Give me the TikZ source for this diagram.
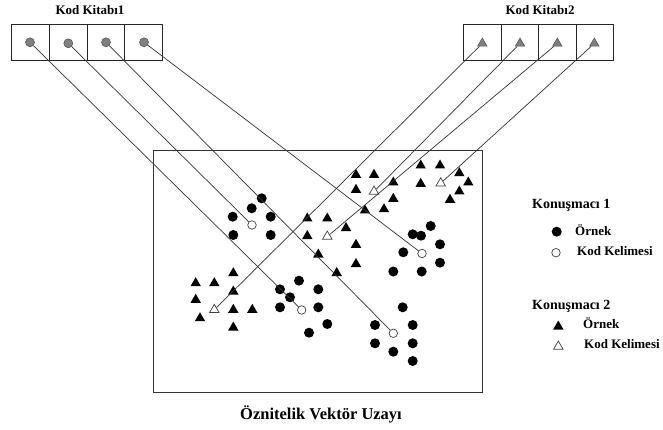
\documentclass[tikz,border=0pt]{standalone}
\usepackage{fontspec}
\setmainfont{Liberation Serif}
\usetikzlibrary{shapes.geometric}
\begin{document}
\begin{tikzpicture}[x=1pt,y=-1pt,
  dot/.style={circle,fill=black,inner sep=0pt,minimum size=10pt},
  cw/.style={circle,draw=black!75,fill=white,line width=0.7pt,inner sep=0pt,minimum size=8.5pt},
  tri/.style={regular polygon,regular polygon sides=3,fill=black,inner sep=0pt,minimum size=12pt,yshift=-1.5pt},
  wtri/.style={regular polygon,regular polygon sides=3,draw=black!75,fill=white,line width=0.7pt,inner sep=0pt,minimum size=11pt,yshift=-1.5pt},
  gdot/.style={circle,fill=black!50,draw=black!70,line width=0.5pt,inner sep=0pt,minimum size=9pt},
  gtri/.style={regular polygon,regular polygon sides=3,fill=black!50,draw=black!70,line width=0.5pt,inner sep=0pt,minimum size=11pt,yshift=-1.5pt},
  cell/.style={draw=black!85,line width=0.8pt,minimum width=37.6pt,minimum height=36pt,inner sep=0pt},
  lbl/.style={font=\bfseries\fontsize{13}{15}\selectfont,inner sep=0pt},
  link/.style={draw=black!80,line width=0.7pt}]
\useasboundingbox (0,0) rectangle (663,430);
% titles
\node[lbl,anchor=base] (kk1) at (90,15) {Kod Kitabı1};
\node[lbl,anchor=base] (kk2) at (540,15) {Kod Kitabı2};
% codebook 1
\node[cell] (b11) at (30.5,42) {};
\node[cell] (b12) at (68.1,42) {};
\node[cell] (b13) at (105.7,42) {};
\node[cell] (b14) at (143.3,42) {};
\node[gdot] (c1) at (30,42.3) {};
\node[gdot] (c2) at (68.3,43.3) {};
\node[gdot] (c3) at (106,42.3) {};
\node[gdot] (c4) at (144,42.3) {};
% codebook 2
\node[cell] (b21) at (482.2,42) {};
\node[cell] (b22) at (519.8,42) {};
\node[cell] (b23) at (557.4,42) {};
\node[cell] (b24) at (595,42) {};
\node[gtri] (t1) at (482.3,42) {};
\node[gtri] (t2) at (520,42) {};
\node[gtri] (t3) at (557.3,42) {};
\node[gtri] (t4) at (594.3,42) {};
% feature space
\node[draw=black!80,line width=0.8pt,minimum width=329.5pt,minimum height=242.5pt,inner sep=0pt] (space) at (318,271.3) {};
\node[lbl,anchor=base,font=\bfseries\fontsize{16.5}{19}\selectfont] (sp) at (321,419.3) {Öznitelik Vektör Uzayı};
% speaker 1 cluster A
\foreach \p [count=\i] in {(261.7,198.3),(251.7,208.3),(232.7,216.7),(270.7,216.7),(233.3,235),(270.7,235)}
  \node[dot] (da\i) at \p {};
\node[cw] (wa) at (252,225) {};
% cluster B
\foreach \p [count=\i] in {(430.7,226),(412.7,234.3),(421,235.7),(440,244.3),(403.3,252.3),(440,262.7),(393.3,271.5),(421.7,271.5)}
  \node[dot] (db\i) at \p {};
\node[cw] (wb) at (422,253.5) {};
% cluster C
\foreach \p [count=\i] in {(299,280.7),(280,289.3),(318.3,289.3),(290,297.3),(280,307.3),(318.3,307.3),(327.3,324),(309,332.7)}
  \node[dot] (dc\i) at \p {};
\node[cw] (wc) at (301.7,310) {};
% cluster D
\foreach \p [count=\i] in {(402.7,307.3),(375,325),(412.7,325),(375,343.3),(412.7,343.3),(393.3,351.7),(412.7,361)}
  \node[dot] (dd\i) at \p {};
\node[cw] (wd) at (393.3,333.3) {};
% speaker 2 cluster E
\foreach \p [count=\i] in {(356,173.3),(374,173.3),(356,188.3),(393.3,181),(393.3,197.3),(365,209),(384,207.7)}
  \node[tri] (te\i) at \p {};
\node[wtri] (we) at (374,190) {};
% cluster F
\foreach \p [count=\i] in {(420.7,164),(440,164),(459.3,171.7),(420.7,182.3),(468.3,181),(459.3,190),(450,198.3)}
  \node[tri] (tf\i) at \p {};
\node[wtri] (wf) at (440.7,181.7) {};
% cluster G
\foreach \p [count=\i] in {(307.3,217),(327.3,217),(346,226.5),(307.3,234.5),(318.3,253),(356,243.3),(356,262.5),(336.7,271.5)}
  \node[tri] (tg\i) at \p {};
\node[wtri] (wg) at (327.3,235) {};
% cluster H
\foreach \p [count=\i] in {(233.3,271.7),(195.7,281.7),(214.3,281.7),(233.3,290),(195.7,298.3),(233.3,308.3),(252.3,308.3),(200,316.7),(233.3,326)}
  \node[tri] (th\i) at \p {};
\node[wtri] (wh) at (214.3,308.3) {};
% connectors
\draw[link] (c1) -- (wc);
\draw[link] (c2) -- (wa);
\draw[link] (c3) -- (wd);
\draw[link] (c4) -- (wb);
\draw[link] (t1) -- (wh);
\draw[link] (t2) -- (we);
\draw[link] (t3) -- (wg);
\draw[link] (t4) -- (wf);
% legend
\node[lbl,anchor=base west,font=\bfseries\fontsize{14}{16}\selectfont] (k1) at (532,209) {Konuşmacı 1};
\node[dot] (l1) at (556.7,231.7) {};
\node[lbl,anchor=base west] (l1t) at (575,235) {Örnek};
\node[cw] (l2) at (556,252.7) {};
\node[lbl,anchor=base west] (l2t) at (577,255.7) {Kod Kelimesi};
\node[lbl,anchor=base west,font=\bfseries\fontsize{14}{16}\selectfont] (k2) at (532,309) {Konuşmacı 2};
\node[tri] (l3) at (558.3,325) {};
\node[lbl,anchor=base west] (l3t) at (583,328) {Örnek};
\node[wtri] (l4) at (558.3,345) {};
\node[lbl,anchor=base west] (l4t) at (584,348) {Kod Kelimesi};
\end{tikzpicture}
\end{document}
